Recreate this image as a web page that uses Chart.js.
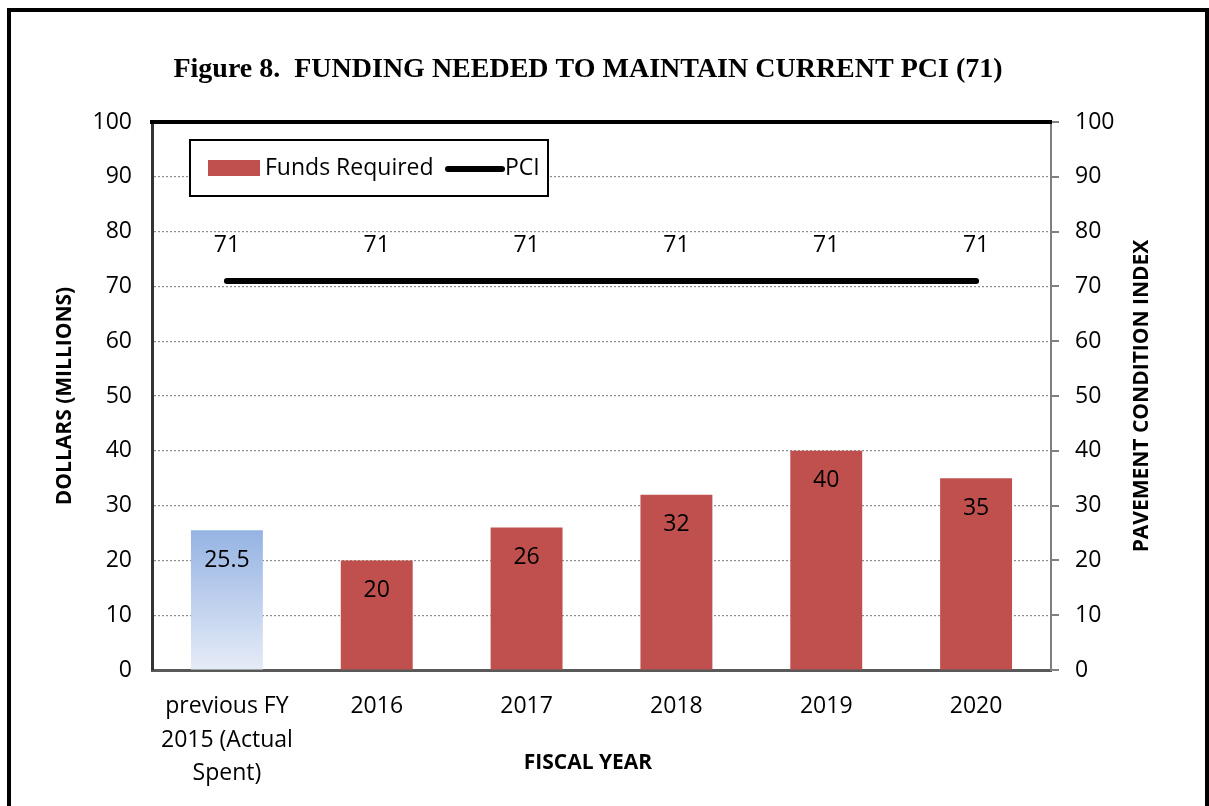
<!DOCTYPE html>
<html>
<head>
<meta charset="utf-8">
<script src="https://cdn.jsdelivr.net/npm/chart.js@4"></script>
<style>
  html, body { margin: 0; padding: 0; background: #fff; overflow: hidden; }
  #frame { position: absolute; left: 7px; top: 8px; width: 1202px; height: 900px; border: 4px solid #000; box-sizing: border-box; }
  #wrap { position: absolute; left: 0; top: 0; width: 1209px; height: 806px; }
</style>
</head>
<body>
<div id="frame"></div>
<div id="wrap"><canvas id="pciChart" width="1209" height="806"></canvas></div>
<script>
// values
const categories = [['previous FY', '2015 (Actual', 'Spent)'], '2016', '2017', '2018', '2019', '2020'];
const funds = [25.5, 20, 26, 32, 40, 35];
const pci = [71, 71, 71, 71, 71, 71];
const axisMin = 0, axisMax = 100, axisStep = 10;

const RED = '#c0504d';
const FONT = '"Open Sans"';

function fundsColor(c) {
  if (c.dataIndex !== 0) return RED;
  const chart = c.chart;
  if (!chart.chartArea) return '#a9c0e8';
  const y = chart.scales.y;
  const g = chart.ctx.createLinearGradient(0, y.getPixelForValue(funds[0]), 0, y.getPixelForValue(0));
  g.addColorStop(0, '#95b3e3');
  g.addColorStop(1, '#e6ecf7');
  return g;
}

const overlay = {
  id: 'overlay',
  afterDatasetsDraw(chart) {
    const { ctx, chartArea: a } = chart;
    ctx.save();
    // heavy top edge of the plot box
    ctx.strokeStyle = '#000';
    ctx.lineWidth = 4;
    ctx.beginPath();
    ctx.moveTo(a.left - 2, a.top);
    ctx.lineTo(a.right + 1, a.top);
    ctx.stroke();

    // value labels
    ctx.fillStyle = '#000';
    ctx.font = '23px ' + FONT;
    ctx.textAlign = 'center';
    ctx.textBaseline = 'middle';
    chart.getDatasetMeta(0).data.forEach((bar, i) => ctx.fillText(String(funds[i]), bar.x, bar.y + 30));
    chart.getDatasetMeta(1).data.forEach((pt, i) => ctx.fillText(String(pci[i]), pt.x, pt.y - 35));

    // legend box inside the plot
    const lx = 190, ly = 140, lw = 358, lh = 56;
    ctx.fillStyle = '#fff';
    ctx.fillRect(lx, ly, lw, lh);
    ctx.strokeStyle = '#000';
    ctx.lineWidth = 2;
    ctx.strokeRect(lx, ly, lw, lh);
    ctx.fillStyle = RED;
    ctx.fillRect(208, 160, 52, 16);
    ctx.fillStyle = '#000';
    ctx.textAlign = 'left';
    ctx.fillText(chart.data.datasets[0].label, 265, 168);
    ctx.strokeStyle = '#000';
    ctx.lineWidth = 6;
    ctx.lineCap = 'round';
    ctx.beginPath();
    ctx.moveTo(448, 169);
    ctx.lineTo(502, 169);
    ctx.stroke();
    ctx.fillText(chart.data.datasets[1].label, 505, 168);

    // axis titles that sit off-centre / read bottom-to-top
    ctx.font = 'bold 21px ' + FONT;
    ctx.textAlign = 'center';
    ctx.fillText('FISCAL YEAR', 588, 763);
    ctx.save();
    ctx.translate(1142, (a.top + a.bottom) / 2);
    ctx.rotate(-Math.PI / 2);
    ctx.fillText('PAVEMENT CONDITION INDEX', 0, 0);
    ctx.restore();

    // figure title
    ctx.font = 'bold 28px "Liberation Serif"';
    ctx.textAlign = 'center';
    ctx.fillText('Figure 8.  FUNDING NEEDED TO MAINTAIN CURRENT PCI (71)', 588, 70);
    ctx.restore();
  }
};

window.addEventListener('DOMContentLoaded', () => {
  const ctx = document.getElementById('pciChart');
  new Chart(ctx, {
    data: {
      labels: categories,
      datasets: [
        {
          type: 'bar',
          label: 'Funds Required',
          data: funds,
          backgroundColor: fundsColor,
          barPercentage: 0.48,
          categoryPercentage: 1,
          yAxisID: 'y',
          order: 2
        },
        {
          type: 'line',
          label: 'PCI',
          data: pci,
          borderColor: '#000',
          borderWidth: 6,
          borderCapStyle: 'round',
          pointRadius: 0,
          yAxisID: 'y1',
          order: 1
        }
      ]
    },
    options: {
      responsive: false,
      animation: false,
      layout: { padding: { top: 122, left: 0, right: 0, bottom: 0 } },
      plugins: {
        legend: { display: false },
        title: { display: false },
        tooltip: { enabled: false }
      },
      scales: {
        x: {
          grid: { display: false, drawTicks: false },
          border: { display: true, color: '#595959', width: 3 },
          ticks: { color: '#000', font: { family: FONT, size: 23, lineHeight: 1.45 }, padding: 20, maxRotation: 0, autoSkip: false },
          afterFit: (s) => { s.height = 136; }
        },
        y: {
          position: 'left',
          min: axisMin,
          max: axisMax,
          ticks: { stepSize: axisStep, color: '#000', font: { family: FONT, size: 23 }, padding: 20 },
          grid: { color: '#8c8c8c', lineWidth: 1.2, drawTicks: false },
          border: { color: '#333', width: 3, dash: [2, 2] },
          title: { display: true, text: 'DOLLARS (MILLIONS)', color: '#000', font: { family: FONT, size: 21, weight: 'bold' }, padding: { top: 52, bottom: 0 } },
          afterFit: (s) => { s.width = 152; }
        },
        y1: {
          position: 'right',
          min: axisMin,
          max: axisMax,
          ticks: { stepSize: axisStep, color: '#000', font: { family: FONT, size: 23 }, padding: 16 },
          grid: { drawOnChartArea: false, drawTicks: true, tickLength: 8, color: '#808080', lineWidth: 2 },
          border: { color: '#7f7f7f', width: 2 },
          afterFit: (s) => { s.width = 158; }
        }
      }
    },
    plugins: [overlay]
  });
});
</script>
</body>
</html>
